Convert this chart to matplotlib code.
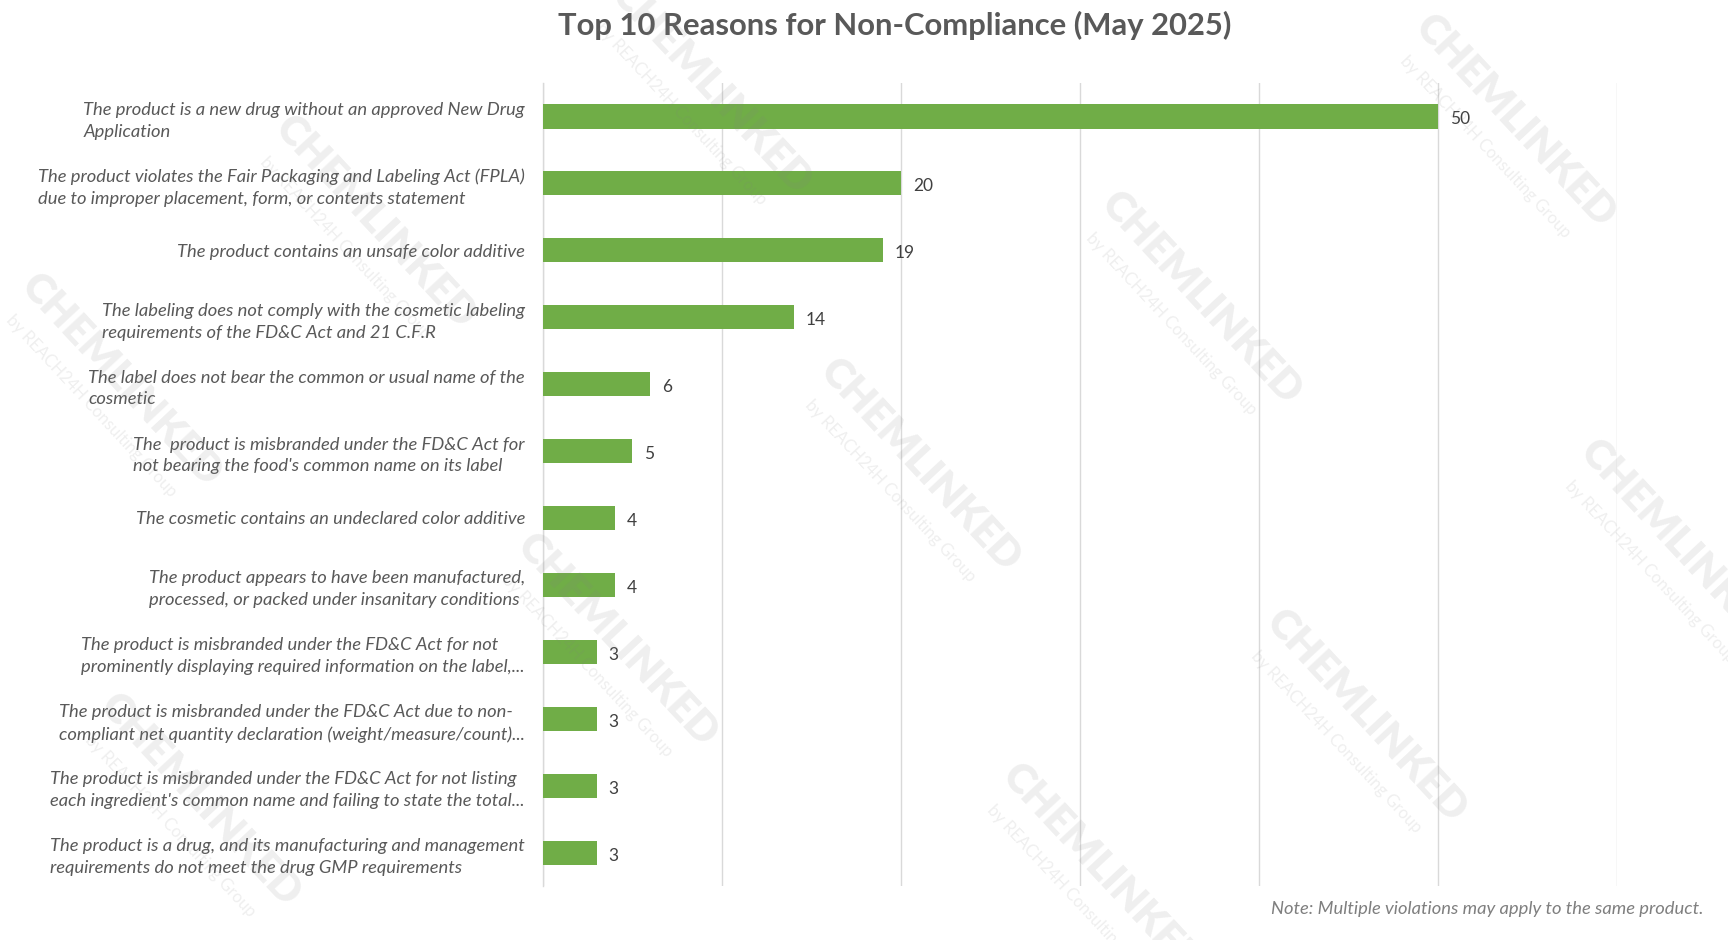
import matplotlib.pyplot as plt
import numpy as np

# Data
reasons = [
    "The product is a new drug without an approved New Drug\nApplication",
    "The product violates the Fair Packaging and Labeling Act (FPLA)\ndue to improper placement, form, or contents statement",
    "The product contains an unsafe color additive",
    "The labeling does not comply with the cosmetic labeling\nrequirements of the FD&C Act and 21 C.F.R",
    "The label does not bear the common or usual name of the\ncosmetic",
    "The  product is misbranded under the FD&C Act for\nnot bearing the food's common name on its label",
    "The cosmetic contains an undeclared color additive",
    "The product appears to have been manufactured,\nprocessed, or packed under insanitary conditions",
    "The product is misbranded under the FD&C Act for not\nprominently displaying required information on the label,...",
    "The product is misbranded under the FD&C Act due to non-\ncompliant net quantity declaration (weight/measure/count)...",
    "The product is misbranded under the FD&C Act for not listing\neach ingredient's common name and failing to state the total...",
    "The product is a drug, and its manufacturing and management\nrequirements do not meet the drug GMP requirements",
]
counts = [50, 20, 19, 14, 6, 5, 4, 4, 3, 3, 3, 3]
x_ticks = [0, 10, 20, 30, 40, 50, 60]

title = "Top 10 Reasons for Non-Compliance (May 2025)"
note = "Note: Multiple violations may apply to the same product."

green = "#70AD47"
text_gray = "#595959"
grid_gray = "#D9D9D9"

plt.rcParams['font.family'] = ['Lato', 'DejaVu Sans']

fig = plt.figure(figsize=(17.28, 9.40), dpi=100)
ax = fig.add_axes([0.3142, 0.0574, 0.6216, 0.8543])

y = np.arange(len(reasons))
ax.barh(y, counts, height=0.36, color=green, zorder=3)

ax.set_xlim(0, 60)
ax.set_ylim(len(reasons) - 0.5, -0.5)
ax.set_xticks(x_ticks)
ax.tick_params(axis='x', length=0, labelbottom=False)
ax.grid(axis='x', color=grid_gray, linewidth=1.0, zorder=0)

ax.set_yticks(y)
ax.set_yticklabels(reasons, fontsize=13.2, style='italic', color=text_gray)
for lbl in ax.get_yticklabels():
    lbl.set_multialignment('left')
    lbl.set_linespacing(1.45)
ax.tick_params(axis='y', length=0, pad=13)

for s in ['top', 'right', 'bottom']:
    ax.spines[s].set_visible(False)
ax.spines['left'].set_color(grid_gray)
ax.spines['left'].set_linewidth(1.0)

# value labels
for yi, v in zip(y, counts):
    ax.annotate(str(v), (v, yi), xytext=(12, -3), textcoords='offset pixels',
                va='center', ha='left', fontsize=12.5, color='#404040')

fig.text(0.518, 0.973, title, ha='center', va='center', fontsize=22.3,
         fontweight='bold', color=text_gray)
fig.text(0.9855, 0.033, note, ha='right', va='center', fontsize=13.2,
         style='italic', color='#7F7F7F')

# faint watermarks
wm_pos = [(711, 88), (1515, 121), (375, 222), (1201, 298), (121, 380),
          (920, 465), (1680, 546), (617, 640), (1366, 716), (200, 800),
          (1102, 870)]
for px, py in wm_pos:
    fx, fy = px / 1728, 1 - py / 940
    fig.text(fx, fy, "CHEMLINKED", rotation=-47, rotation_mode='anchor',
             ha='center', va='center', fontsize=30, fontweight='heavy',
             fontstretch='condensed', color='gray', alpha=0.13, zorder=10)
    fig.text(fx - 30 / 1728, fy - 26 / 940, "by REACH24H Consulting Group",
             rotation=-47, rotation_mode='anchor', ha='center', va='center',
             fontsize=12, color='gray', alpha=0.13, zorder=10)

fig.savefig("out.png", dpi=100, facecolor='white')
